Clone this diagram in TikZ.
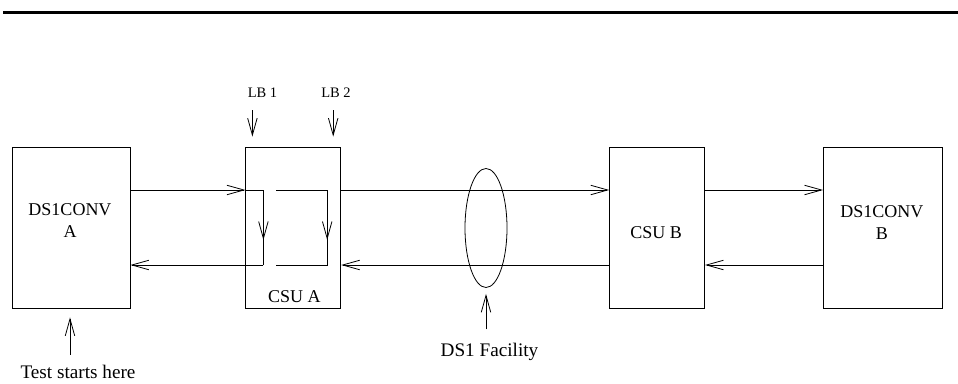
\documentclass[tikz,border=0pt]{standalone}
\usepackage{fontspec}
\setmainfont{Liberation Serif}
\usetikzlibrary{shapes.geometric, arrows.meta, positioning}

\begin{document}
\begin{tikzpicture}[
  x=1pt, y=-1pt,
  node distance=0pt and 115pt,
  unit/.style={rectangle, draw=black, line width=0.8pt, minimum width=118pt,
               minimum height=161pt, inner sep=0pt},
  csu/.style={rectangle, draw=black, line width=0.8pt, minimum width=95pt,
              minimum height=161pt, inner sep=0pt},
  lbl/.style={inner sep=0pt, font=\fontsize{18}{22}\selectfont, align=center},
  smalllbl/.style={inner sep=0pt, font=\fontsize{14.5}{17}\selectfont},
  biglbl/.style={inner sep=0pt, font=\fontsize{19.2}{22}\selectfont},
  arrow/.style={-{Straight Barb[length=17pt, width=9.5pt]}, line width=0.8pt},
  wire/.style={line width=0.8pt}
]
\useasboundingbox (0,0) rectangle (958,383);
\draw[line width=3pt] (3,12) -- (958,12);

% boxes
\node[unit]                              (dsa)  at (71,227.5) {};
\node[csu,  right=115pt of dsa]          (csua) {};
\node[csu,  right=268pt of csua]         (csub) {};
\node[unit, right=118pt of csub, minimum width=119pt] (dsb) {};
\node[draw, ellipse, line width=0.8pt, minimum width=42pt, minimum height=119pt,
      inner sep=0pt] (fac) at (486,228) {};

% texts
\node[lbl] (dsatxt) at ([xshift=-1pt, yshift=7pt]dsa.center) {DS1CONV\\A};
\node[lbl] (dsbtxt) at ([xshift=-1pt, yshift=4.5pt]dsb.center) {DS1CONV\\B};
\node[lbl, anchor=base] (csuatxt) at ([xshift=1pt, yshift=6pt]csua.south) {CSU A};
\node[lbl, anchor=base] (csubtxt) at ([xshift=-1pt, yshift=-10.5pt]csub.center) {CSU B};
\node[smalllbl, anchor=base] (lb1) at (262.5,97) {LB 1};
\node[smalllbl, anchor=base] (lb2) at (336,97) {LB 2};
\node[biglbl, anchor=base] (test) at (78,378.5) {Test starts here};
\node[biglbl, anchor=base] (facility) at (489.5,356) {DS1 Facility};

% pointers
\coordinate (lb1tip)  at ([xshift=7pt, yshift=10pt]csua.north west);
\coordinate (lb2tip)  at ([xshift=-8pt, yshift=10pt]csua.north east);
\coordinate (testtip) at ([xshift=-1pt, yshift=-9pt]dsa.south);
\coordinate (factip)  at ([yshift=-6pt]fac.south);
\draw[arrow, shorten <=13pt] (lb1.south -| lb1tip) -- (lb1tip);
\draw[arrow, shorten <=13pt] (lb2.south -| lb2tip) -- (lb2tip);
\draw[arrow, shorten <=10pt] (test.north -| testtip) -- (testtip);
\draw[arrow, shorten <=13pt] (facility.north -| factip) -- (factip);

% loopbacks inside CSU A
\coordinate (lb1a) at ([xshift=18pt, yshift=37.5pt]csua.west);
\coordinate (lb1b) at ([xshift=18pt, yshift=-37.5pt]csua.west);
\coordinate (lb2a) at ([xshift=31pt, yshift=37.5pt]csua.west);
\coordinate (lb2b) at ([xshift=-14pt, yshift=37.5pt]csua.east);
\coordinate (lb2c) at ([xshift=-14pt, yshift=-37.5pt]csua.east);
\coordinate (lb2d) at ([xshift=31pt, yshift=-37.5pt]csua.west);

\draw[arrow] ([yshift=37.5pt]dsa.east) -- ([yshift=37.5pt]csua.west);
\draw[wire]  ([yshift=37.5pt]csua.west) -- (lb1a) -- (lb1b);
\draw[arrow] (lb1a) -- ([yshift=-50pt]lb1a);
\draw[arrow] (lb1b) -- ([yshift=-37.5pt]dsa.east);
\draw[wire]  (lb2a) -- (lb2b) -- (lb2c) -- (lb2d);
\draw[arrow] (lb2b) -- ([yshift=-50pt]lb2b);

% line to the far end
\draw[arrow] ([yshift=37.5pt]csua.east) -- ([yshift=37.5pt]csub.west);
\draw[arrow] ([yshift=-37.5pt]csub.west) -- ([yshift=-37.5pt]csua.east);
\draw[arrow] ([yshift=37.5pt]csub.east) -- ([yshift=37.5pt]dsb.west);
\draw[arrow] ([yshift=-37.5pt]dsb.west) -- ([yshift=-37.5pt]csub.east);
\end{tikzpicture}
\end{document}
